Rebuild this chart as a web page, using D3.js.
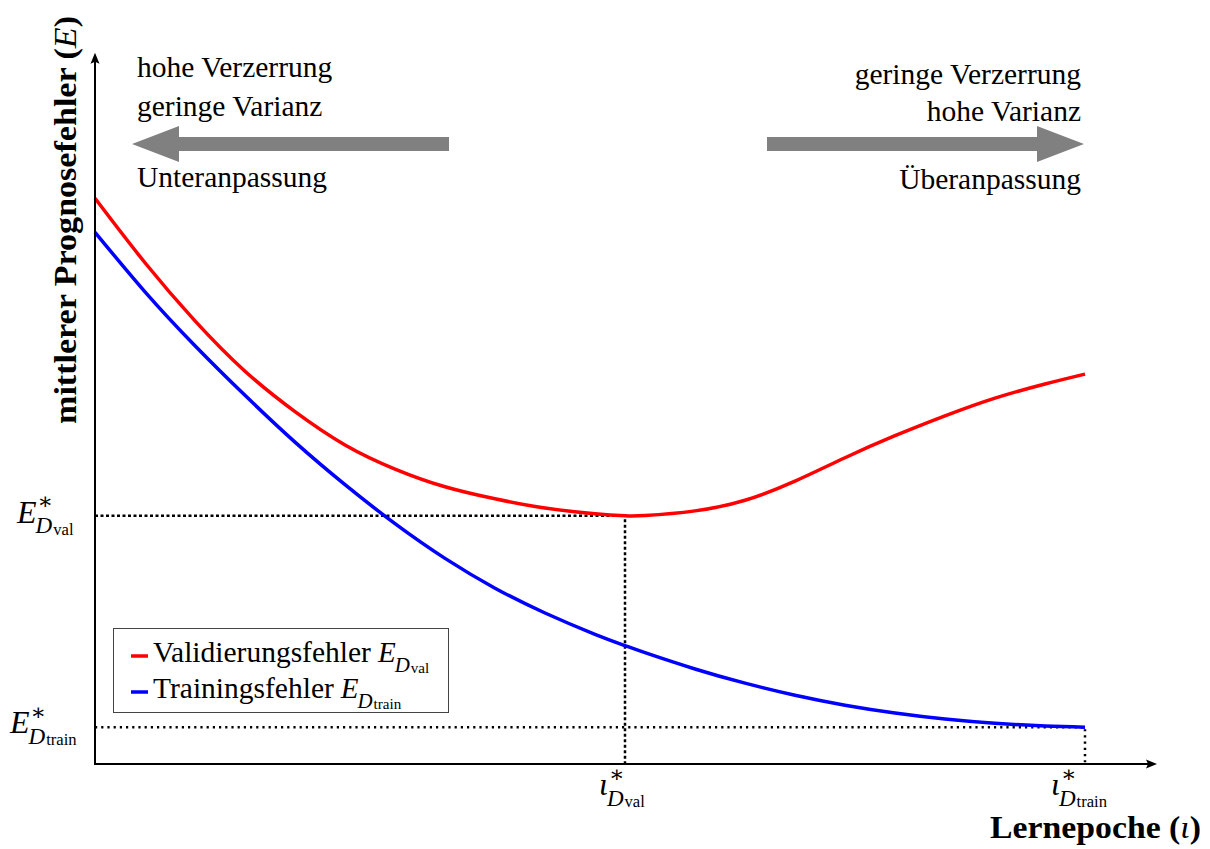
<!DOCTYPE html>
<html>
<head>
<meta charset="utf-8">
<script src="https://cdn.jsdelivr.net/npm/d3@7"></script>
<style>
body { margin: 0; background: #fff; }
text { font-family: "Liberation Serif", serif; fill: #000; }
</style>
</head>
<body>
<script>
// epochs (iota) and mean prediction error (E)
var epochs = [0, 5, 10, 15, 20, 25, 30, 35, 40, 45, 50, 53, 55, 60, 65, 70, 75, 80, 85, 90, 95, 99];
var valError = [79.8, 70.7, 62.5, 55.4, 49.7, 45.0, 41.6, 39.1, 37.4, 36.1, 35.3, 35.0, 35.04, 35.7, 37.2, 39.9, 43.2, 46.3, 49.1, 51.6, 53.6, 55.0];
var trainError = [75.0, 66.6, 59.0, 52.0, 45.4, 39.4, 33.9, 29.0, 24.8, 21.3, 18.3, 16.7, 15.7, 13.4, 11.4, 9.7, 8.3, 7.2, 6.35, 5.75, 5.35, 5.2];
var seriesNames = ["Validierungsfehler", "Trainingsfehler"];
var seriesSubs = ["val", "train"];
var seriesColors = ["#ff0000", "#0000ff"];
var optEpochs = [53, 99];     // iota*_val, iota*_train
var optErrors = [35.0, 5.2];  // E*_val, E*_train

window.onload = function(){
    var w = 1210, h = 849;

    var svg = d3.select("body").append("svg")
        .attr("width", w)
        .attr("height", h);

    var x = d3.scaleLinear()
        .domain([0, 99])
        .range([95, 1085]);

    var y = d3.scaleLinear()
        .domain([0, 100])
        .range([764, 55]);

    var x0 = x(0), y0 = y(0);

    // dotted guide lines
    svg.append("path")
        .attr("d", "M" + x0 + "," + y(optErrors[0]) + "H" + x(optEpochs[0]) + "V" + y0)
        .attr("fill", "none").attr("stroke", "#000")
        .attr("stroke-width", 2.5).attr("stroke-dasharray", "3,2.5");
    svg.append("path")
        .attr("d", "M" + x0 + "," + y(optErrors[1]) + "H" + x(optEpochs[1]) + "V" + y0)
        .attr("fill", "none").attr("stroke", "#000")
        .attr("stroke-width", 2.5).attr("stroke-dasharray", "2.2,4");

    // curves
    var line = d3.line()
        .x(function(d){ return x(d[0]); })
        .y(function(d){ return y(d[1]); })
        .curve(d3.curveNatural);

    [valError, trainError].forEach(function(vals, i){
        svg.append("path")
            .datum(epochs.map(function(e, j){ return [e, vals[j]]; }))
            .attr("d", line)
            .attr("fill", "none")
            .attr("stroke", seriesColors[i])
            .attr("stroke-width", 3.5);
    });

    // axes with arrow tips
    var xEnd = x(106.2), yEnd = y(100.3);
    svg.append("line").attr("x1", x0).attr("y1", y0).attr("x2", xEnd - 6).attr("y2", y0)
        .attr("stroke", "#000").attr("stroke-width", 2);
    svg.append("line").attr("x1", x0).attr("y1", y0 + 1).attr("x2", x0).attr("y2", yEnd + 6)
        .attr("stroke", "#000").attr("stroke-width", 2);
    svg.append("path")
        .attr("d", "M" + xEnd + "," + y0 + "l-11,-4.5 l2,4.5 l-2,4.5z");
    svg.append("path")
        .attr("d", "M" + x0 + "," + yEnd + "l-4.5,11 l4.5,-2 l4.5,2z");

    // grey arrows
    svg.append("path")
        .attr("d", "M449,137 H179 V126 L132,144 L179,162 V151 H449 Z")
        .attr("fill", "#808080");
    svg.append("path")
        .attr("d", "M767,137 H1037 V126 L1084,144 L1037,162 V151 H767 Z")
        .attr("fill", "#808080");

    var fs = 29.5;
    function label(tx, ty, str, anchor){
        return svg.append("text")
            .attr("x", tx).attr("y", ty)
            .attr("text-anchor", anchor || "start")
            .style("font-size", fs + "px")
            .text(str);
    }
    label(137, 77, "hohe Verzerrung");
    label(137, 116, "geringe Varianz");
    label(137, 187, "Unteranpassung");
    label(1081, 84, "geringe Verzerrung", "end");
    label(1081, 121, "hohe Varianz", "end");
    label(1081, 189, "Überanpassung", "end");

    // math label: main letter, optional star, subscript D with small index
    function mathLabel(tx, ty, main, small, star, size){
        var g = svg.append("g");
        var t = g.append("text").attr("x", tx).attr("y", ty)
            .style("font-style", "italic").style("font-size", size + "px").text(main);
        var mw = t.node().getComputedTextLength();
        if (star) {
            g.append("text").attr("x", tx + mw + 1).attr("y", ty - size * 0.42)
                .style("font-family", "DejaVu Serif").style("font-size", (size * 0.72) + "px").text("\u2217");
        }
        var d = g.append("text").attr("x", tx + mw - 1).attr("y", ty + size * 0.33)
            .style("font-style", "italic").style("font-size", (size * 0.72) + "px").text("D");
        var dw = d.node().getComputedTextLength();
        g.append("text").attr("x", tx + mw + dw).attr("y", ty + size * 0.38)
            .style("font-size", (size * 0.52) + "px").text(small);
        return g;
    }

    // y tick labels
    mathLabel(17, y(optErrors[0]) + 7, "E", seriesSubs[0], true, 32);
    mathLabel(10, y(optErrors[1]) + 6, "E", seriesSubs[1], true, 32);
    // x tick labels
    mathLabel(x(optEpochs[0]) - 26, 795, "\u03b9", seriesSubs[0], true, 32);
    mathLabel(x(optEpochs[1]) - 34, 795, "\u03b9", seriesSubs[1], true, 32);

    // axis titles
    var yt = svg.append("text")
        .attr("transform", "translate(76,424) rotate(-90)")
        .attr("textLength", 408).attr("lengthAdjust", "spacingAndGlyphs")
        .style("font-size", "31px").style("font-weight", "bold");
    yt.append("tspan").text("mittlerer Prognosefehler (");
    yt.append("tspan").style("font-style", "italic").style("font-weight", "normal").text("E");
    yt.append("tspan").text(")");

    var xt = svg.append("text")
        .attr("x", 990).attr("y", 838)
        .attr("textLength", 211).attr("lengthAdjust", "spacingAndGlyphs")
        .style("font-size", "31px").style("font-weight", "bold");
    xt.append("tspan").text("Lernepoche (");
    xt.append("tspan").style("font-style", "italic").style("font-weight", "normal").text("\u03b9");
    xt.append("tspan").text(")");

    // legend
    var lg = svg.append("g");
    lg.append("rect")
        .attr("x", 113.5).attr("y", 628.5).attr("width", 335).attr("height", 84)
        .attr("fill", "#fff").attr("stroke", "#444").attr("stroke-width", 1);
    seriesNames.forEach(function(name, i){
        var ly = 656 + i * 36;
        lg.append("line")
            .attr("x1", 131).attr("x2", 148).attr("y1", ly).attr("y2", ly)
            .attr("stroke", seriesColors[i]).attr("stroke-width", 3.5);
        var t = lg.append("text").attr("x", 153).attr("y", ly + 6)
            .style("font-size", fs + "px").text(name);
        var tw = t.node().getComputedTextLength();
        mathLabel(153 + tw + 7, ly + 6, "E", seriesSubs[i], false, 29);
    });
};
</script>
</body>
</html>
